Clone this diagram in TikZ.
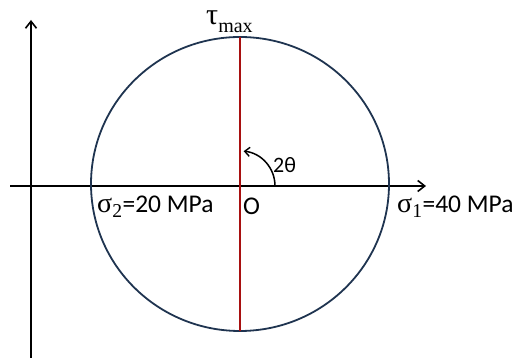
\documentclass[tikz,border=0pt]{standalone}
\usepackage{fontspec}
\setmainfont{Carlito}
\newfontfamily\greekfont{Liberation Serif}
\usetikzlibrary{calc, arrows.meta}
\definecolor{circblue}{HTML}{1F3450}
\definecolor{diamred}{HTML}{A81010}

\begin{document}
\begin{tikzpicture}[x=1pt, y=1pt,
  axis/.style={line width=2pt, -{Straight Barb[length=7pt, width=11pt, line width=1.6pt]}},
  lbl/.style={font=\fontsize{25.5}{28}\selectfont, inner sep=0pt},
  >={Straight Barb[length=5pt, width=9pt, line width=1.4pt]}]
  \useasboundingbox (0,0) rectangle (522,358);
  \coordinate (O) at (240,172);
  \coordinate (vbot) at (31,0);
  \coordinate (vtop) at (31,338);
  \coordinate (hleft) at (10,172);
  \coordinate (hright) at (426,172);

  \draw[axis] (vbot) -- (vtop);
  \draw[axis] (hleft) -- (hright);

  \draw[circblue, line width=1.8pt] ($(O)+(0,2)$) ellipse [x radius=149, y radius=147];
  \coordinate (dtop) at ($(O)+(0,149)$);
  \coordinate (dbot) at ($(O)+(0,-145)$);
  \draw[diamred, line width=2.4pt] (dtop) -- (dbot);

  % angle 2theta
  \draw[->, line width=1.5pt] ($(O)+(35,0)$) arc[start angle=0, end angle=84, radius=35];

  \node[lbl, anchor=base west] (s2) at (97,145) {{\greekfont\fontsize{28}{30}\selectfont σ\textsubscript{2}}=20 MPa};
  \node[lbl, anchor=base west] (s1) at (397,145) {{\greekfont\fontsize{28}{30}\selectfont σ\textsubscript{1}}=40 MPa};
  \node[lbl, anchor=base west] (olbl) at (243,143) {O};
  \node[lbl, anchor=base west, font=\fontsize{22}{24}\selectfont] (ang) at (273,185) {2θ};
  \node[lbl, anchor=base west] (tmax) at (206,333) {\greekfont{\fontsize{30}{32}\selectfont τ}{\fontsize{20}{22}\selectfont\raisebox{-8pt}{max}}};
\end{tikzpicture}
\end{document}
